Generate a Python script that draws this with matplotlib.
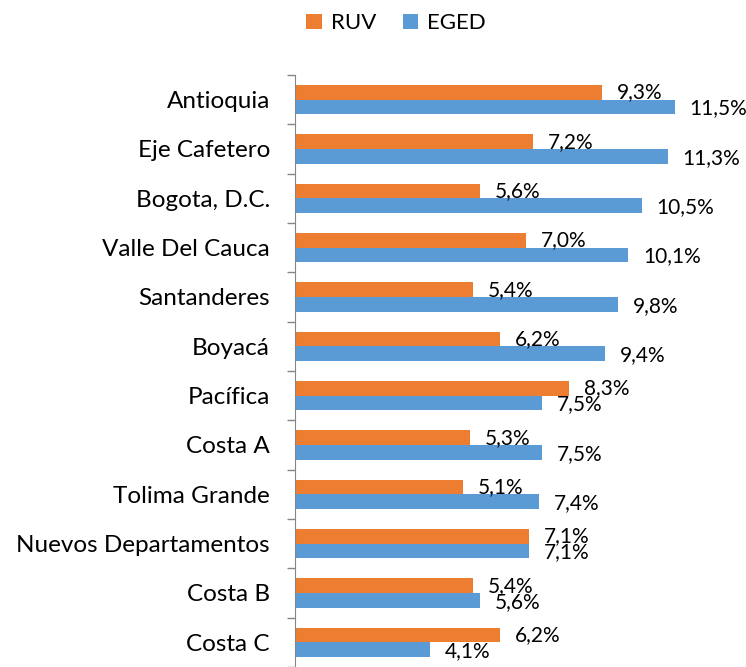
import numpy as np
import matplotlib.pyplot as plt

regions = ["Antioquia", "Eje Cafetero", "Bogota, D.C.", "Valle Del Cauca",
           "Santanderes", "Boyacá", "Pacífica", "Costa A", "Tolima Grande",
           "Nuevos Departamentos", "Costa B", "Costa C"]
ruv = [9.3, 7.2, 5.6, 7.0, 5.4, 6.2, 8.3, 5.3, 5.1, 7.1, 5.4, 6.2]
eged = [11.5, 11.3, 10.5, 10.1, 9.8, 9.4, 7.5, 7.5, 7.4, 7.1, 5.6, 4.1]

plt.rcParams['font.family'] = ['Lato', 'DejaVu Sans']

fig = plt.figure(figsize=(7.46, 6.67), dpi=100)
ax = fig.add_axes([0.3954, 0.0, 0.553, 0.8876])

y = np.arange(len(regions))
h = 0.295
ax.barh(y - h / 2, ruv, height=h, color="#ED7D31", label="RUV")
ax.barh(y + h / 2, eged, height=h, color="#5B9BD5", label="EGED")

# Excel style labels: slightly overlap when bars have similar length
for i in range(len(regions)):
    ax.text(ruv[i] + 0.45, y[i] - h / 2, f"{ruv[i]:.1f}%".replace(".", ","),
            va="center", ha="left", fontsize=15)
    ax.text(eged[i] + 0.45, y[i] + h / 2 + 0.03, f"{eged[i]:.1f}%".replace(".", ","),
            va="center", ha="left", fontsize=15)

ax.set_xlim(0, 12.5)
ax.set_ylim(len(regions) - 0.5, -0.5)
ax.set_yticks(y)
ax.set_yticklabels(regions, fontsize=17.5)
ax.set_yticks(np.arange(len(regions) + 1) - 0.5, minor=True)
ax.tick_params(axis="y", which="major", length=0, pad=18)
ax.tick_params(axis="y", which="minor", length=6, color="#868686", width=1)
ax.set_xticks([])
for s in ["top", "right", "bottom"]:
    ax.spines[s].set_visible(False)
ax.spines["left"].set_color("#868686")

fig.legend(loc="upper center", bbox_to_anchor=(0.531, 1.01), ncol=2, frameon=False,
           fontsize=16, handlelength=0.7, handleheight=0.7, columnspacing=1.2,
           handletextpad=0.4)

fig.savefig("out.png", dpi=100)
